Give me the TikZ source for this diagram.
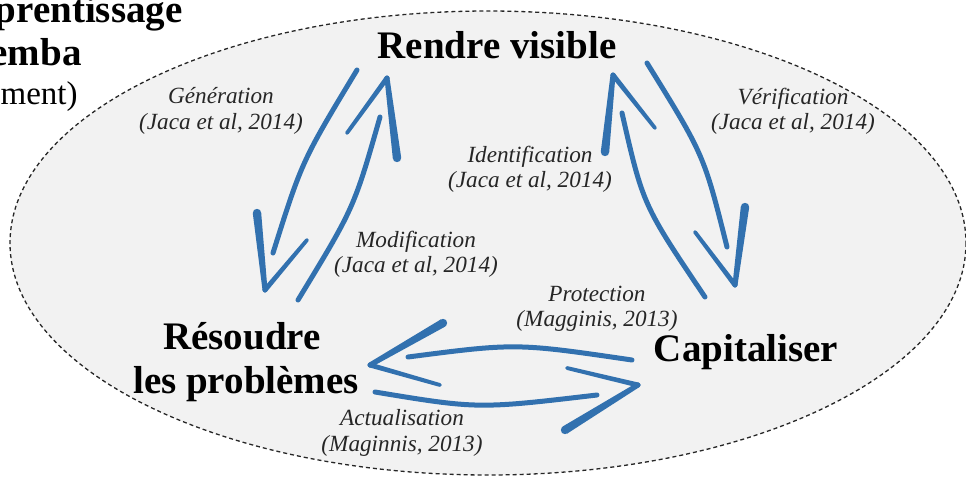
\documentclass[tikz,border=0pt]{standalone}
\usepackage{fontspec}
\setmainfont{Liberation Serif}
\usetikzlibrary{calc}
\definecolor{arrowblue}{RGB}{50,113,175}
\definecolor{ellfill}{RGB}{242,242,242}
% tapered stroke: #1 start, #2 end, #3 half width at start, #4 half width at end
\newcommand\taperline[4]{%
  \fill[arrowblue] ($(#1)!#3!90:(#2)$) -- ($(#1)!#3!-90:(#2)$)
     -- ($(#2)!#4!90:(#1)$) -- ($(#2)!#4!-90:(#1)$) -- cycle;
  \fill[arrowblue] (#1) circle[radius=#3];
  \fill[arrowblue] (#2) circle[radius=#4];}
\begin{document}
\begin{tikzpicture}[x=0.5pt,y=-0.5pt,
  title/.style={font=\fontsize{19.5}{22}\selectfont\bfseries, inner sep=0pt, anchor=base},
  lab/.style={font=\fontsize{11.6}{12.6}\selectfont\itshape, align=center, inner sep=0pt, text=black!85},
  shaft/.style={draw=arrowblue, line width=2.5pt, line cap=round}]
\useasboundingbox (0,0) rectangle (966,477);
\draw[dash pattern=on 2pt off 1.5pt, line width=0.65pt, fill=ellfill, draw=black!85]
  (488,243) ellipse [x radius=478, y radius=232];

% top-left cut text
\node[title, anchor=base east] (t1) at (183,22) {prentissage};
\node[title, anchor=base east] (t2) at (82,65) {emba};
\node[title, font=\fontsize{16.5}{20}\selectfont, anchor=base east] (t3) at (78,104) {ment)};

% main titles
\node[title] (rv) at (497,58) {Rendre visible};
\node[title] (rp1) at (242,349) {Résoudre};
\node[title] (rp2) at (246,393) {les problèmes};
\node[title] (cap) at (746,361) {\addfontfeatures{Kerning=Off}Capitaliser};

% labels
\node[lab] (gen) at (221,111) {Génération\\(Jaca et al, 2014)};
\node[lab] (ver) at (793,111) {Vérification\\(Jaca et al, 2014)};
\node[lab] (ide) at (530,169) {Identification\\(Jaca et al, 2014)};
\node[lab] (mod) at (416,254) {Modification\\(Jaca et al, 2014)};
\node[lab] (pro) at (597,309) {Protection\\(Magginis, 2013)};
\node[lab] (act) at (402,433) {Actualisation\\(Maginnis, 2013)};

% arrow 1 (Generation): Rendre visible -> Resoudre
\draw[shaft] (357,70) .. controls (302,161) .. (273,253);
\taperline{265,290}{307,240}{1.25pt}{0.95pt}
\taperline{257,213}{265,290}{2.1pt}{1.25pt}

% arrow 2 (Modification): Resoudre -> Rendre visible
\draw[shaft] (298,300) .. controls (354,208) .. (380,117);
\taperline{387,78}{347,133}{1.25pt}{0.95pt}
\taperline{397,158}{387,78}{2.1pt}{1.25pt}

% arrow 3 (Identification): Capitaliser -> Rendre visible
\draw[shaft] (622,113) .. controls (643,205) .. (705,297);
\taperline{613,75}{655,128}{1.25pt}{0.95pt}
\taperline{605,152}{613,75}{2.1pt}{1.25pt}

% arrow 4 (Verification): Rendre visible -> Capitaliser
\draw[shaft] (647,63) .. controls (704,155) .. (727,247);
\taperline{735,285}{695,232}{1.25pt}{0.95pt}
\taperline{745,207}{735,285}{2.1pt}{1.25pt}

% arrow 5 (Protection): Capitaliser -> Resoudre
\draw[shaft] (632,360) .. controls (516,343) .. (408,357);
\taperline{370,365}{440,385}{1.25pt}{0.95pt}
\taperline{443,323}{370,365}{2.1pt}{1.25pt}

% arrow 6 (Actualisation): Resoudre -> Capitaliser
\draw[shaft] (375,392) .. controls (478,409) .. (597,395);
\taperline{638,385}{567,368}{1.25pt}{0.95pt}
\taperline{565,430}{638,385}{2.1pt}{1.25pt}
\end{tikzpicture}
\end{document}
